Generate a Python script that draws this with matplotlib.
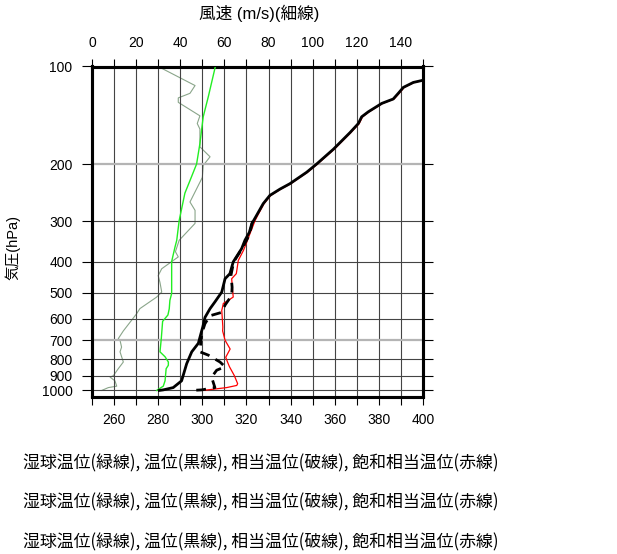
import matplotlib
matplotlib.use("Agg")
import matplotlib.pyplot as plt
from matplotlib.ticker import FixedLocator, NullLocator, FixedFormatter

plt.rcParams['font.family'] = ['Liberation Sans', 'Noto Sans CJK JP', 'DejaVu Sans']

# ---- data ----
# potential temperature (black, thick)
theta_p = [108, 110.5, 112, 116, 121, 126, 130, 138, 143, 150, 160, 180, 200, 212, 230, 239,
           250, 265, 288, 306, 325, 344, 365, 401, 436, 452, 497, 533, 559, 595, 637, 655,
           715, 760, 827, 934, 980, 996, 1000]
theta_t = [404.0, 399.4, 395.6, 391.1, 388.8, 386.5, 381.3, 375.2, 372.2, 370.7, 366.9, 359.4,
           351.8, 347.3, 339.7, 335.2, 330.6, 327.6, 324.6, 322.4, 321.3, 319.3, 317.8, 314.0,
           312.5, 310.3, 308.8, 305.7, 303.5, 301.2, 300.2, 299.7, 298.2, 295.2, 292.9, 290.6,
           286.8, 282.3, 280.5]

# saturated equivalent potential temperature (red)
sat_p = [108, 110.5, 112, 116, 121, 126, 130, 138, 143, 150, 160, 180, 200, 212, 230, 239,
         250, 265, 288, 299, 328, 349, 370, 397, 436, 452, 480, 515, 539, 559, 566, 637, 655,
         700, 745, 790, 820, 845, 900, 953, 965, 980, 1000]
sat_t = [404.4, 399.8, 396.0, 391.5, 389.2, 386.9, 381.7, 375.6, 372.6, 371.1, 367.3, 359.8,
         352.2, 347.7, 340.1, 335.6, 331.0, 328.0, 325.1, 323.9, 321.6, 320.1, 318.6, 316.3,
         315.4, 313.3, 313.6, 314.0, 309.5, 309.0, 308.8, 309.3, 309.2, 310.3, 312.6, 310.6,
         311.5, 312.3, 314.5, 316.0, 315.6, 311.0, 300.3]

# equivalent potential temperature (dashed)
eq_p = [300, 330, 365, 401, 440, 480, 509, 545, 574, 588, 622, 669, 760, 778, 817, 845, 866,
        910, 980, 996, 1000]
eq_t = [322.8, 321.4, 318.0, 314.2, 313.0, 313.5, 313.3, 310.3, 308.8, 303.5, 301.2, 299.7,
        298.9, 302.7, 308.0, 310.3, 306.5, 304.2, 305.7, 299.7, 295.0]

# wet-bulb potential temperature (green)
wb_p = [100, 124, 143, 173, 200, 225, 246, 299, 344, 361, 400, 458, 502, 527, 560, 585, 612,
        692, 760, 787, 817, 836, 857, 934, 970, 1000]
wb_t = [305.9, 302.7, 300.4, 298.9, 297.4, 294.4, 292.1, 289.5, 288.4, 287.6, 286.1, 286.1,
        286.1, 285.3, 285.0, 284.4, 282.0, 281.4, 280.8, 283.1, 284.6, 284.6, 283.6, 283.1,
        282.3, 279.3]

# wind speed (thin, top axis)
wind_p = [100, 114.5, 121, 125, 129, 142, 150, 156, 177, 190, 202, 220, 262, 278, 305, 325,
          344, 373, 387, 421, 442, 464, 497, 515, 559, 580, 655, 692, 700, 735, 760, 817, 857,
          900, 910, 934, 970, 980, 1000]
wind_v = [30.0, 46.7, 44.4, 39.1, 39.1, 48.9, 47.7, 48.9, 48.9, 53.5, 50.4, 50.0, 44.4, 46.7,
          46.7, 42.9, 39.5, 37.8, 39.1, 31.6, 30.0, 30.8, 31.6, 29.3, 21.7, 20.2, 14.2, 11.9,
          12.7, 13.4, 12.7, 14.2, 11.9, 9.7, 8.2, 10.4, 11.2, 7.4, 4.4]

p_ticks = [100, 200, 300, 400, 500, 600, 700, 800, 900, 1000]
t_ticks = list(range(250, 401, 10))
t_labels = [str(t) if (t - 250) % 20 == 10 else '' for t in t_ticks]
w_ticks = list(range(0, 151, 10))
w_labels = [str(w) if w % 20 == 0 and w < 150 else '' for w in w_ticks]

legend_text = "湿球温位(緑線), 温位(黒線), 相当温位(破線), 飽和相当温位(赤線)"

# ---- figure ----
W, H = 617, 554
fig = plt.figure(figsize=(W / 100, H / 100), dpi=100)
left, right, top, bottom = 92, 423, 66.5, 396.5
ax = fig.add_axes([left / W, 1 - bottom / H, (right - left) / W, (bottom - top) / H])

ax.set_yscale('log')
ax.set_ylim(1044, 100)
ax.set_xlim(250, 400)

# grid
for t in t_ticks[1:-1]:
    ax.axvline(t, color='#444444', lw=0.8, zorder=1)
for p in p_ticks[1:]:
    if p in (200, 700):
        ax.axhline(p, color='#b4b4b4', lw=1.6, zorder=1)
    else:
        ax.axhline(p, color='#444444', lw=0.8, zorder=1)

ax2 = ax.twiny()
ax2.set_xlim(0, 150)
ax2.plot(wind_v, wind_p, color='#8aa58a', lw=0.8, zorder=2)

ax.plot(wb_t, wb_p, color='#22ee22', lw=1.0, zorder=3)
ax.plot(sat_t, sat_p, color='#ff0000', lw=0.9, zorder=3)
ax.plot(eq_t, eq_p, color='black', lw=2.0, ls=(0, (3.5, 2.5)), zorder=4)
ax.plot(theta_t, theta_p, color='black', lw=2.0, zorder=5)
ax.set_zorder(ax2.get_zorder() + 1)
ax.patch.set_visible(False)

# ticks
ax.yaxis.set_major_locator(FixedLocator(p_ticks))
ax.yaxis.set_major_formatter(FixedFormatter([str(p) for p in p_ticks]))
ax.yaxis.set_minor_locator(NullLocator())
ax.xaxis.set_major_locator(FixedLocator(t_ticks))
ax.xaxis.set_major_formatter(FixedFormatter(t_labels))
ax2.xaxis.set_major_locator(FixedLocator(w_ticks))
ax2.xaxis.set_major_formatter(FixedFormatter(w_labels))

ax.tick_params(axis='y', which='both', left=True, right=True, direction='out',
               length=7, width=0.8, pad=7, labelsize=10)
ax.tick_params(axis='x', direction='out', length=6, width=0.8, pad=6, labelsize=10)
ax2.tick_params(axis='x', direction='out', length=6, width=0.8, pad=6, labelsize=10)

for a in (ax, ax2):
    for s in a.spines.values():
        s.set_linewidth(2.2)
        s.set_color('black')

fig.text(259 / W, 1 - 13 / H, "風速 (m/s)(細線)", ha='center', va='center', fontsize=12,
         family=['Liberation Sans', 'Noto Sans CJK JP'])
fig.text(13 / W, 1 - 247 / H, "気圧(hPa)", ha='center', va='center', rotation=90, fontsize=10.5,
         family=['Liberation Sans', 'Noto Sans CJK JP'])
for yy in (463, 502, 542):
    fig.text(23 / W, 1 - yy / H, legend_text, ha='left', va='center', fontsize=12.2,
             family=['Noto Sans CJK JP', 'DejaVu Sans'])

fig.savefig('out.png', dpi=100)
